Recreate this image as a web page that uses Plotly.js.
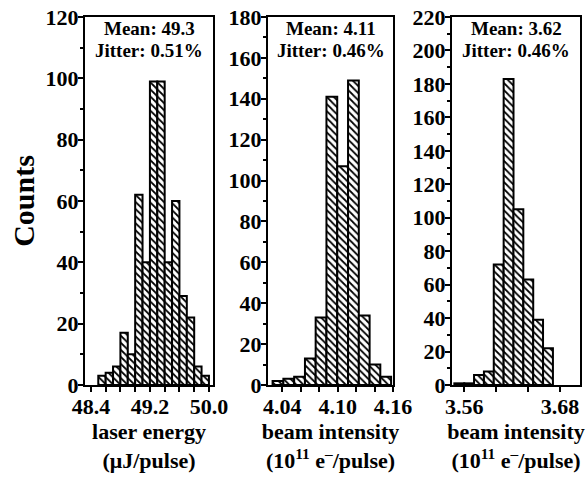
<!DOCTYPE html>
<html>
<head>
<meta charset="utf-8">
<script src="https://cdn.plot.ly/plotly-3.0.1.min.js"></script>
<style>html,body{margin:0;padding:0;background:#fff;}#chart{width:587px;height:477px;}</style>
</head>
<body>
<div id="chart"></div>
<script>
// Panel 1: laser energy (uJ/pulse), bin width 0.1
const laserCenters = [48.55, 48.65, 48.75, 48.85, 48.95, 49.05, 49.15, 49.25, 49.35, 49.45, 49.55, 49.65, 49.75, 49.85, 49.95];
const laserCounts  = [3, 4, 6, 17, 10, 62, 40, 99, 99, 40, 60, 29, 22, 6, 3];
const laserWidth = 0.1;
// Panel 2: beam intensity (1e11 e-/pulse)
const beam1Centers = [4.0353, 4.0470, 4.0587, 4.0704, 4.0820, 4.0937, 4.1054, 4.1171, 4.1288, 4.1404, 4.1521];
const beam1Counts  = [2, 3, 4, 13, 33, 141, 107, 149, 34, 10, 4];
const beam1Width = 0.01168;
// Panel 3: beam intensity (1e11 e-/pulse)
const beam2Centers = [3.5537, 3.5661, 3.5784, 3.5908, 3.6031, 3.6155, 3.6278, 3.6402, 3.6525, 3.6649];
const beam2Counts  = [1, 1, 6, 8, 72, 183, 105, 63, 39, 22];
const beam2Width = 0.01235;

const xTicks1 = [48.4, 49.2, 50.0], xTickText1 = ['48.4', '49.2', '50.0'];
const xTicks2 = [4.04, 4.10, 4.16], xTickText2 = ['4.04', '4.10', '4.16'];
const xTicks3 = [3.56, 3.68], xTickText3 = ['3.56', '3.68'];
const yTicks1 = [0, 20, 40, 60, 80, 100, 120];
const yTicks2 = [0, 20, 40, 60, 80, 100, 120, 140, 160, 180];
const yTicks3 = [0, 20, 40, 60, 80, 100, 120, 140, 160, 180, 200, 220];
const means = ['Mean: 49.3', 'Mean: 4.11', 'Mean: 3.62'];
const jitters = ['Jitter: 0.51%', 'Jitter: 0.46%', 'Jitter: 0.46%'];
const xTitles = ['laser energy<br>(\u03bcJ/pulse)', 'beam intensity<br>(10<sup>11</sup> e<sup>\u2013</sup>/pulse)', 'beam intensity<br>(10<sup>11</sup> e<sup>\u2013</sup>/pulse)'];

const FONT = 'Liberation Serif, Times New Roman, serif';
const W = 587, H = 477;
const bold = s => '<b>' + s + '</b>';

function barTrace(x, y, w, xa, ya) {
  return {
    type: 'bar', x: x, y: y, width: w, xaxis: xa, yaxis: ya,
    marker: {
      color: 'white',
      line: {color: 'black', width: 2},
      pattern: {shape: '\\', fgcolor: 'black', bgcolor: 'white', size: 5, solidity: 0.35, fillmode: 'replace'}
    },
    hoverinfo: 'skip'
  };
}

const data = [
  barTrace(laserCenters, laserCounts, laserWidth, 'x', 'y'),
  barTrace(beam1Centers, beam1Counts, beam1Width, 'x2', 'y2'),
  barTrace(beam2Centers, beam2Counts, beam2Width, 'x3', 'y3')
];

const yTop = 1 - 17 / H, yBot = 1 - 385 / H;
function xAxis(dom, range, tv, tt, minorDtick, tick0, title) {
  return {
    domain: dom, range: range,
    showline: true, mirror: true, linewidth: 2, linecolor: 'black',
    ticks: 'outside', ticklen: 5, tickwidth: 2, tickcolor: 'black',
    tickvals: tv, ticktext: tt.map(bold),
    minor: {dtick: minorDtick, tick0: tick0, ticks: 'outside', ticklen: 5, tickwidth: 2, tickcolor: 'black', showgrid: false},
    showgrid: false, zeroline: false,
    tickfont: {family: FONT, size: 22, color: 'black'},
    ticklabelstandoff: -4,
    title: {text: bold(title), font: {family: FONT, size: 22, color: 'black'}, standoff: 4},
    fixedrange: true
  };
}
function yAxis(dom, range, xa, tv) {
  return {
    domain: dom, range: range, anchor: xa,
    showline: true, mirror: true, linewidth: 2, linecolor: 'black',
    ticks: 'outside', ticklen: 5, tickwidth: 2, tickcolor: 'black',
    tickvals: tv, ticktext: tv.map(v => bold(String(v))),
    minor: {dtick: 10, tick0: 0, ticks: 'outside', ticklen: 3, tickwidth: 2, tickcolor: 'black', showgrid: false},
    showgrid: false, zeroline: false,
    tickfont: {family: FONT, size: 22, color: 'black'},
    ticklabelstandoff: -5,
    fixedrange: true
  };
}

const d1 = [85 / W, 213 / W], d2 = [268 / W, 393 / W], d3 = [452 / W, 580 / W];
const layout = {
  width: W, height: H,
  margin: {l: 0, r: 0, t: 0, b: 0},
  paper_bgcolor: 'white', plot_bgcolor: 'white',
  showlegend: false,
  bargap: 0,
  xaxis: Object.assign(xAxis(d1, [48.32, 50.055], xTicks1, xTickText1, 0.2, 48.4, xTitles[0]), {anchor: 'y'}),
  xaxis2: Object.assign(xAxis(d2, [4.0245, 4.16], xTicks2, xTickText2, 0.02, 4.04, xTitles[1]), {anchor: 'y2'}),
  xaxis3: Object.assign(xAxis(d3, [3.5446, 3.705], xTicks3, xTickText3, 0.04, 3.56, xTitles[2]), {anchor: 'y3'}),
  yaxis: Object.assign(yAxis([yBot, yTop], [0, 120], 'x', yTicks1), {title: {text: '<b>Counts</b>', font: {family: FONT, size: 30, color: 'black'}, standoff: 2}}),
  yaxis2: yAxis([yBot, yTop], [0, 180], 'x2', yTicks2),
  yaxis3: yAxis([yBot, yTop], [0, 220], 'x3', yTicks3),
  annotations: []
};
const xrefs = ['x domain', 'x2 domain', 'x3 domain'];
for (let i = 0; i < 3; i++) {
  layout.annotations.push({xref: xrefs[i], yref: 'paper', x: 0.5, y: 1 - 28 / H, text: bold(means[i]), showarrow: false,
    font: {family: FONT, size: 19, color: 'black'}, xanchor: 'center', yanchor: 'middle'});
  layout.annotations.push({xref: xrefs[i], yref: 'paper', x: 0.5, y: 1 - 50 / H, text: bold(jitters[i]), showarrow: false,
    font: {family: FONT, size: 19, color: 'black'}, xanchor: 'center', yanchor: 'middle'});
}
Plotly.newPlot('chart', data, layout, {displayModeBar: false, staticPlot: true});
</script>
</body>
</html>
